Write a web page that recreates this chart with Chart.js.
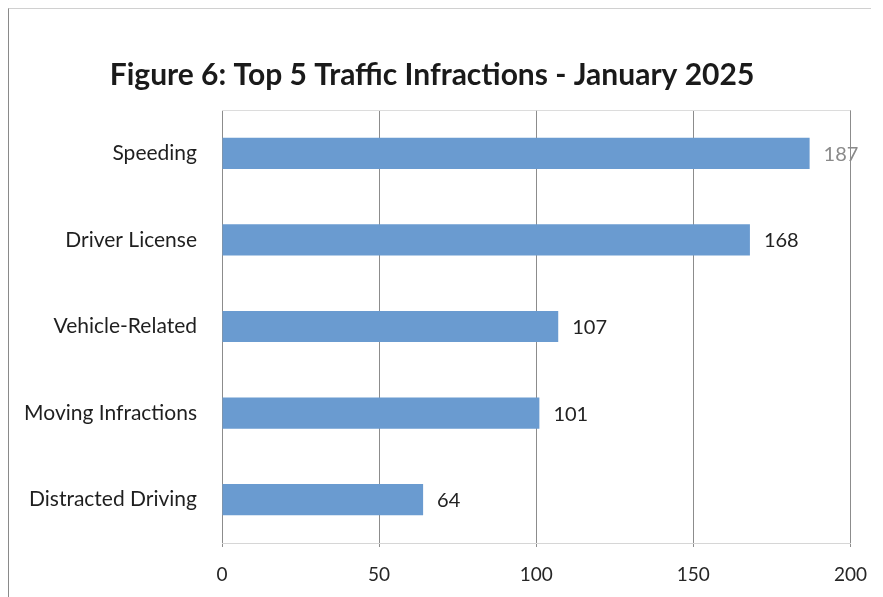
<!DOCTYPE html>
<html>
<head>
<meta charset="utf-8">
<script src="https://cdn.jsdelivr.net/npm/chart.js@4"></script>
<style>
  html, body { margin: 0; padding: 0; background: #fff; }
  #wrap { position: relative; width: 883px; height: 597px; }
  #frame {
    position: absolute; left: 8px; top: 8px; width: 862px; height: 589px;
    border-left: 1px solid #8a8a8a; border-top: 1px solid #d0d0d0;
    pointer-events: none;
  }
</style>
</head>
<body>
<div id="wrap">
  <canvas id="infractionsChart" width="883" height="597"></canvas>
  <div id="frame"></div>
</div>
<script>
// Top 5 infractions, January 2025
const categories = ['Speeding', 'Driver License', 'Vehicle-Related', 'Moving Infractions', 'Distracted Driving'];
const counts = [187, 168, 107, 101, 64];
const labelColors = ['#8a8a8a', '#222222', '#222222', '#222222', '#222222'];
const xTicks = [0, 50, 100, 150, 200];

const FONT = 'Lato, "Open Sans", sans-serif';

// Value labels at the end of each bar
const barValueLabels = {
    id: 'barValueLabels',
    afterDatasetsDraw(chart) {
        const ctx = chart.ctx;
        const meta = chart.getDatasetMeta(0);
        ctx.save();
        ctx.font = '20px ' + FONT;
        ctx.textBaseline = 'middle';
        ctx.textAlign = 'left';
        meta.data.forEach((bar, i) => {
            ctx.fillStyle = labelColors[i];
            ctx.fillText(counts[i], bar.x + 14, bar.y + 1);
        });
        ctx.restore();
    }
};

// Faint top edge of the plot area
const plotTopLine = {
    id: 'plotTopLine',
    beforeDatasetsDraw(chart) {
        const { ctx, chartArea } = chart;
        ctx.save();
        ctx.strokeStyle = '#dcdcdc';
        ctx.lineWidth = 1;
        ctx.beginPath();
        ctx.moveTo(chartArea.left, chartArea.top + 0.5);
        ctx.lineTo(chartArea.right, chartArea.top + 0.5);
        ctx.stroke();
        ctx.restore();
    }
};

const ctx = document.getElementById('infractionsChart').getContext('2d');
new Chart(ctx, {
    type: 'bar',
    data: {
        labels: categories,
        datasets: [{
            data: counts,
            backgroundColor: '#6a9bd0',
            borderWidth: 0,
            categoryPercentage: 1,
            barPercentage: 0.36
        }]
    },
    options: {
        indexAxis: 'y',
        responsive: false,
        animation: false,
        layout: { padding: { left: 12, right: 31, top: 0, bottom: 14 } },
        plugins: {
            legend: { display: false },
            tooltip: { enabled: false },
            title: {
                display: true,
                text: 'Figure 6: Top 5 Traffic Infractions - January 2025',
                color: '#1a1a1a',
                font: { family: FONT, size: 30, weight: 'bold' },
                padding: { top: 57, bottom: 17 }
            }
        },
        scales: {
            x: {
                min: 0,
                max: 200,
                afterBuildTicks(scale) {
                    scale.ticks = xTicks.map(v => ({ value: v }));
                },
                grid: {
                    color: '#8c8c8c',
                    lineWidth: 1,
                    tickLength: 4,
                    drawTicks: true
                },
                border: { display: true, color: '#d6d6d6' },
                ticks: {
                    color: '#262626',
                    padding: 16,
                    font: { family: FONT, size: 19 }
                },
                afterFit(scale) {
                    scale.height = 40;
                }
            },
            y: {
                grid: { display: false },
                border: { display: false },
                ticks: {
                    color: '#1f1f1f',
                    padding: 17,
                    font: { family: FONT, size: 21 }
                },
                afterFit(scale) {
                    scale.width = 210;
                }
            }
        }
    },
    plugins: [barValueLabels, plotTopLine]
});
</script>
</body>
</html>
